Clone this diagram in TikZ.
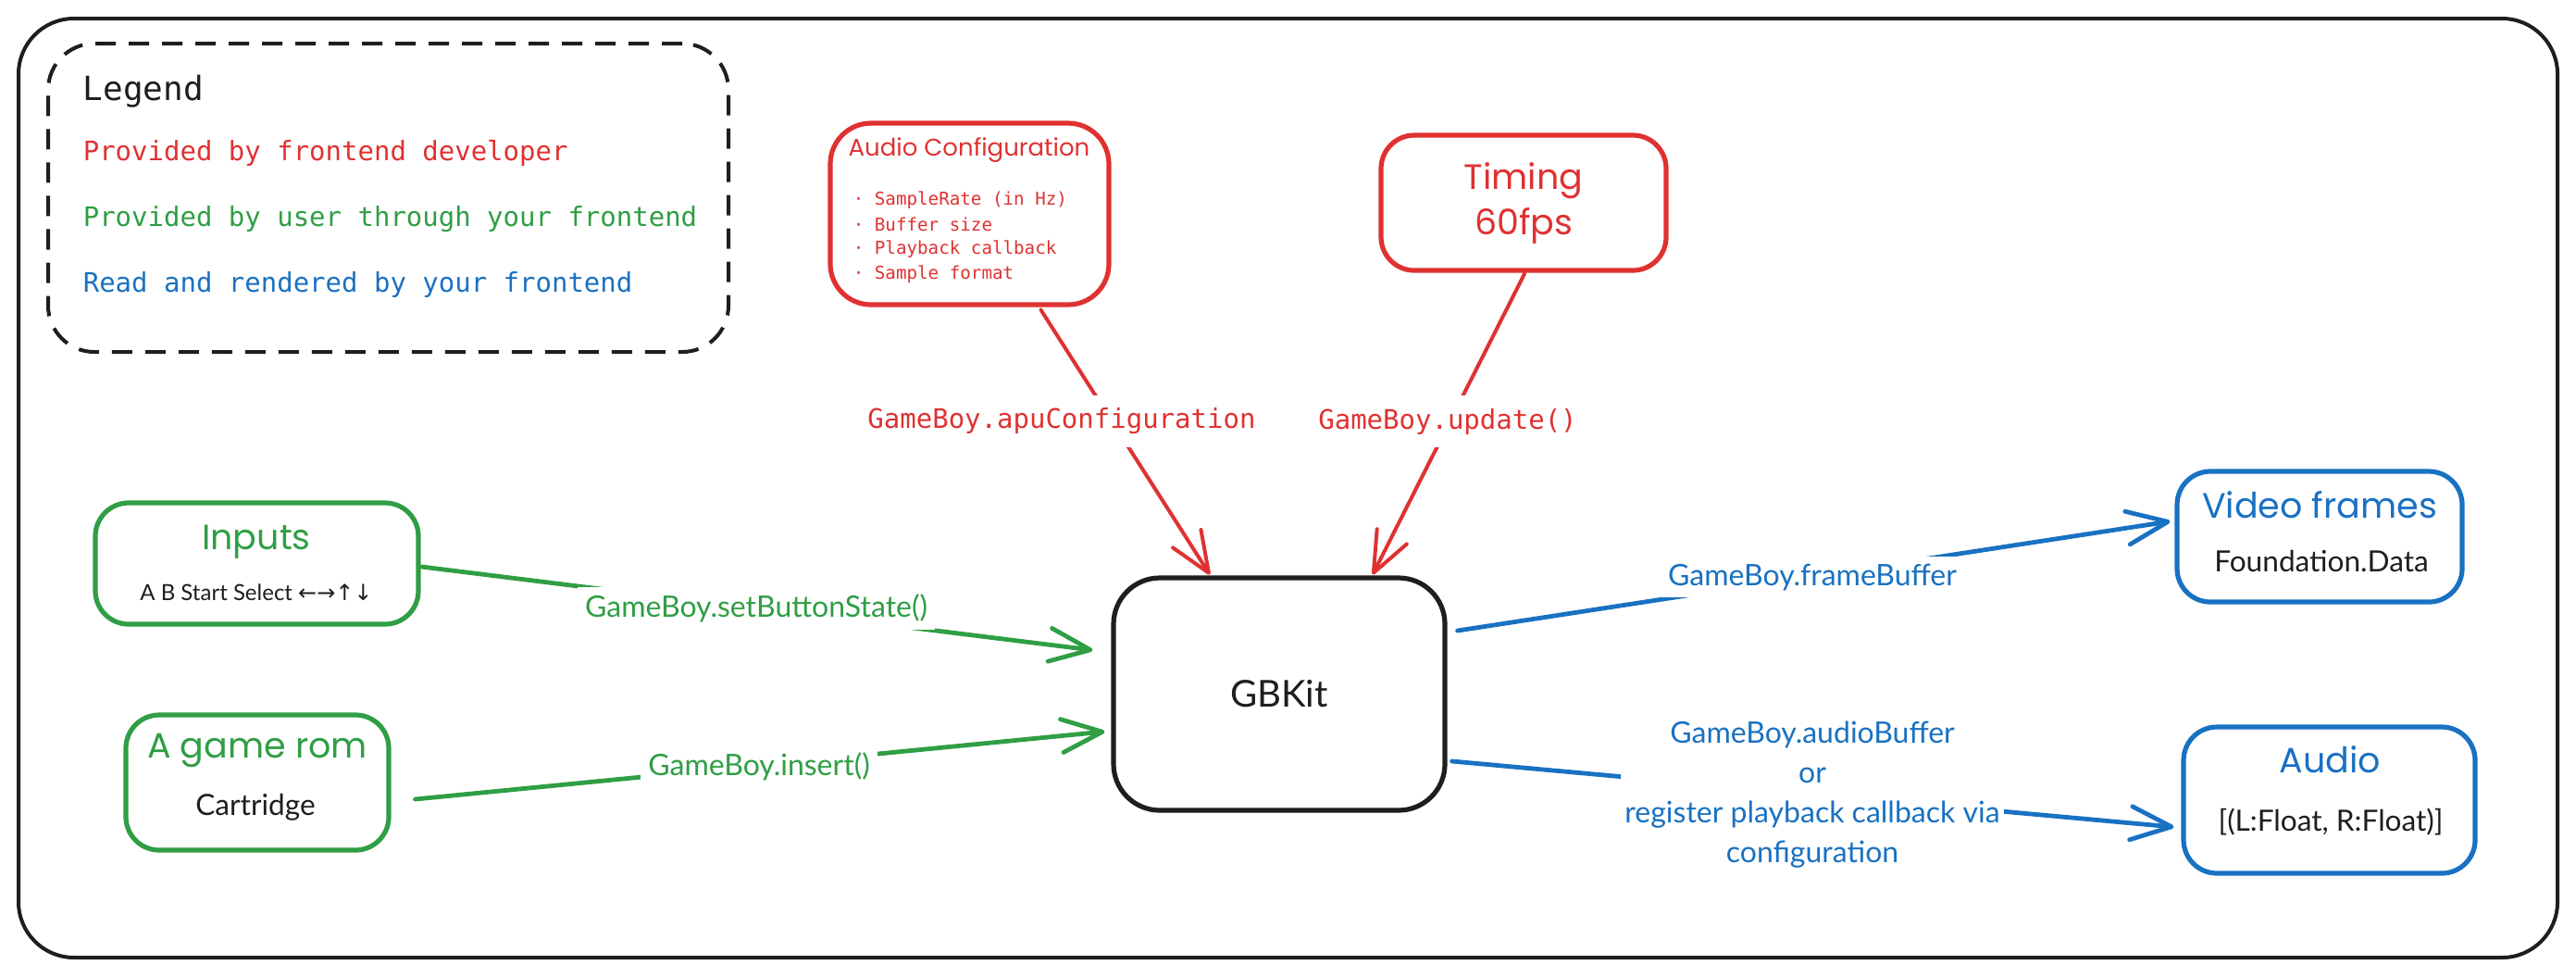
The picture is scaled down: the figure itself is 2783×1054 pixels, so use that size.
\documentclass[tikz,border=0pt]{standalone}
\usepackage{fontspec}
\setmainfont{Lato}
\newfontfamily\handfont{Poppins}
\newfontfamily\codefont{DejaVu Sans Mono}
\newfontfamily\symfont{DejaVu Sans}
\usetikzlibrary{arrows.meta,calc,fit}
\definecolor{exred}{HTML}{E03131}
\definecolor{exgreen}{HTML}{2F9E44}
\definecolor{exblue}{HTML}{1971C2}
\definecolor{exblack}{HTML}{1E1E1E}
\tikzset{
  shapebox/.style={draw=#1, line width=1.3pt, rounded corners=9pt, inner sep=0pt, fill=white},
  txt/.style={inner sep=0pt},
  title/.style={txt, text=#1, font=\handfont\fontsize{9.5}{11}\selectfont},
  body/.style={txt, text=exblack, font=\fontsize{7.9}{9}\selectfont},
  legendline/.style={txt, anchor=west, text=#1, font=\codefont\fontsize{7.25}{9}\selectfont},
  bullet/.style={txt, anchor=west, text=exred, font=\codefont\fontsize{4.8}{6}\selectfont},
  lblred/.style={fill=white, inner sep=3.5pt, text=exred, font=\codefont\fontsize{7.25}{9}\selectfont},
  lblsans/.style={fill=white, inner sep=2pt, text=#1, font=\fontsize{8}{10.75}\selectfont, align=center},
  conn/.style={draw=#1, line width=1.2pt, line cap=round, line join=round,
    -{Straight Barb[length=11pt,width=9pt,round]}},
}
\begin{document}
\begin{tikzpicture}[x=0.25pt,y=-0.25pt]
\useasboundingbox (0,0) rectangle (2783,1054);
% outer frame
\node[draw=exblack, line width=1pt, rounded corners=15pt, inner sep=0pt, fit={(20,20)(2763,1034)}] (frame) {};
% legend
\node[draw=exblack, line width=1pt, rounded corners=12.5pt, inner sep=0pt, dash pattern=on 5.5pt off 3.5pt, fit={(52,47)(787,380)}] (legend) {};
\node[legendline=exblack, font=\codefont\fontsize{9}{11}\selectfont] (legT) at (89,99) {Legend};
\node[legendline=exred] (leg1) at (89,165) {Provided by frontend developer};
\node[legendline=exgreen] (leg2) at (89,237) {Provided by user through your frontend};
\node[legendline=exblue] (leg3) at (89,307) {Read and rendered by your frontend};

% boxes
\node[shapebox=exred, rounded corners=11pt, fit={(897,133)(1198,329)}] (acfg) {};
\node[title=exred, font=\handfont\fontsize{6.5}{7}\selectfont] (acfgT) at (1047,162) {Audio Configuration};
\node[bullet] (b1) at (921,216) {· SampleRate (in Hz)};
\node[bullet] (b2) at (921,242) {· Buffer size};
\node[bullet] (b3) at (921,269) {· Playback callback};
\node[bullet] (b4) at (921,296) {· Sample format};

\node[shapebox=exred, fit={(1492,146)(1800,292)}] (timing) {};
\node[title=exred] (timT) at (1646,195) {Timing};
\node[title=exred] (timS) at (1646,244) {60fps};

\node[shapebox=exblack, rounded corners=12.5pt, fit={(1203,624)(1561,875)}] (gbk) {};
\node[body, font=\fontsize{10}{12}\selectfont] (gbkT) at (1382,749) {GBKit};

\node[shapebox=exgreen, fit={(103,543)(452,674)}] (inputs) {};
\node[title=exgreen] (inT) at (277,585) {Inputs};
\node[body, font=\fontsize{6}{7}\selectfont] (inS) at (277,640) {A B Start Select {\symfont ←→↑↓}};

\node[shapebox=exgreen, fit={(136,772)(420,918)}] (rom) {};
\node[title=exgreen] (romT) at (278,810) {A game rom};
\node[body] (romS) at (276,872) {Cartridge};

\node[shapebox=exblue, fit={(2352,509)(2660,650)}] (video) {};
\node[title=exblue] (vidT) at (2506,545) {Video frames};
\node[body] (vidS) at (2508,606) {Foundation.Data};

\node[shapebox=exblue, fit={(2359,785)(2674,943)}] (audio) {};
\node[title=exblue] (audT) at (2517,820) {Audio};
\node[body] (audS) at (2518,888) {[(L:Float, R:Float)]};

% connectors
\draw[conn=exred, line width=1pt] ($(acfg.south)+(77,3)$) -- ($(gbk.north)+(-75,-1)$);
\draw[conn=exred, line width=1pt] ($(timing.south)+(1,1)$) -- ($(gbk.north)+(101,-1)$);
\draw[conn=exgreen] ($(inputs.east)+(1,3.5)$) -- ($(gbk.west)+(-20,-47.5)$);
\draw[conn=exgreen] ($(rom.east)+(26,18)$) -- ($(gbk.west)+(-7,40.5)$);
\draw[conn=exblue] ($(gbk.east)+(11,-68.5)$) -- ($(video.west)+(-5,-16.5)$);
\draw[conn=exblue] ($(gbk.east)+(5,72.5)$) -- ($(audio.west)+(-8,29)$);

% connector labels
\node[lblred] (lapu) at (1147,455) {GameBoy.apuConfiguration};
\node[lblred] (lupd) at (1564,455) {GameBoy.update()};
\node[lblsans=exgreen] (lbtn) at (817,657) {GameBoy.setButtonState()};
\node[lblsans=exgreen] (lins) at (820,828) {GameBoy.insert()};
\node[lblsans=exblue] (lfb) at (1958,623) {GameBoy.frameBuffer};
\node[lblsans=exblue, inner sep=1pt] (lab) at (1958,858) {GameBoy.audioBuffer\\or\\register playback callback via\\configuration};
\end{tikzpicture}
\end{document}
